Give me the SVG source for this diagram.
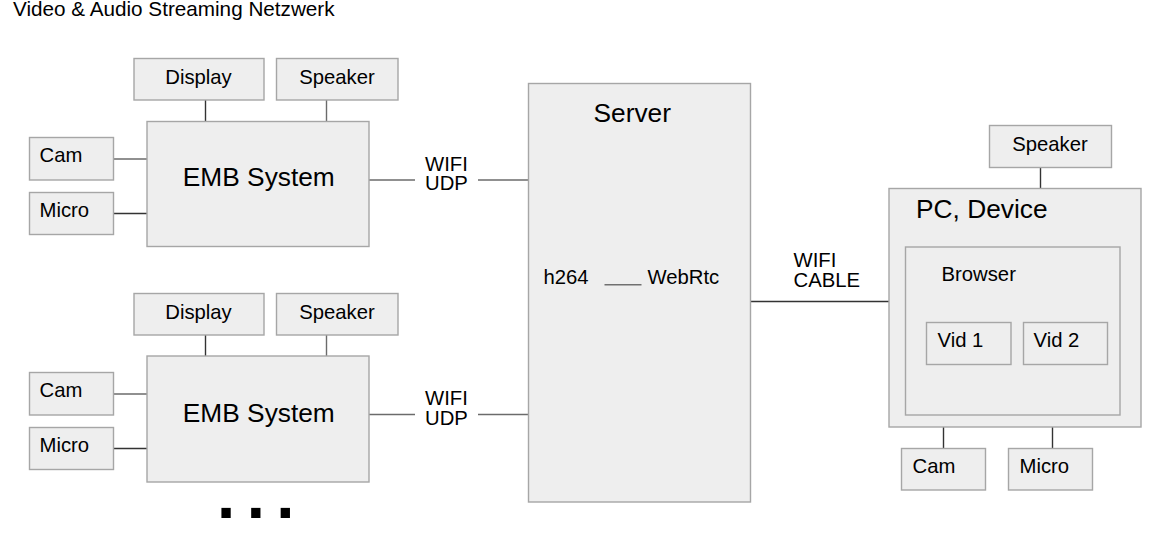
<svg xmlns="http://www.w3.org/2000/svg" width="1151" height="539" viewBox="0 0 1151 539">
<style>
.box{fill:#eeeeee;stroke:#a6a6a6;stroke-width:1.4}
.t{font-family:"Liberation Sans",Arial,sans-serif;font-size:20.3px;fill:#000}
.big{font-family:"Liberation Sans",Arial,sans-serif;font-size:26.3px;fill:#000}
.c{stroke:#333;stroke-width:1.4;fill:none}
.g{stroke:#6b6b6b;stroke-width:1.4;fill:none}
.mid{text-anchor:middle}
</style>
<rect width="1151" height="539" fill="#ffffff"/>
<text class="t" x="13" y="15.5" style="font-size:20.7px">Video &amp; Audio Streaming Netzwerk</text>

<g id="connectors">
  <line class="c" x1="205.5" y1="100" x2="205.5" y2="121.5"/>
  <line class="g" x1="326.5" y1="100" x2="326.5" y2="121.5"/>
  <line class="g" x1="113.5" y1="159" x2="147" y2="159"/>
  <line class="c" x1="113.5" y1="213.5" x2="147" y2="213.5"/>
  <line class="g" x1="369" y1="180" x2="415" y2="180"/>
  <line class="g" x1="478" y1="180" x2="528.5" y2="180"/>
  <line class="c" x1="205.5" y1="335" x2="205.5" y2="356"/>
  <line class="g" x1="326.5" y1="335" x2="326.5" y2="356"/>
  <line class="g" x1="113.5" y1="394" x2="147" y2="394"/>
  <line class="c" x1="113.5" y1="448.5" x2="147" y2="448.5"/>
  <line class="g" x1="369" y1="414.5" x2="415" y2="414.5"/>
  <line class="g" x1="478" y1="414.5" x2="528.5" y2="414.5"/>
  <line class="c" x1="750.5" y1="301.5" x2="889" y2="301.5"/>
  <line class="c" x1="1040.5" y1="167.5" x2="1040.5" y2="188.5"/>
  <line class="c" x1="943.5" y1="415" x2="943.5" y2="448.5"/>
  <line class="c" x1="1052.5" y1="415" x2="1052.5" y2="448.5"/>
  <text class="t" x="425" y="170.5">WIFI<tspan x="425" dy="19.5">UDP</tspan></text>
  <text class="t" x="425" y="405">WIFI<tspan x="425" dy="19.5">UDP</tspan></text>
  <text class="t" x="793.5" y="266.5">WIFI<tspan x="793.5" dy="20">CABLE</tspan></text>
</g>

<g id="display1"><rect class="box" x="134" y="58.5" width="130" height="41.5"/><text class="t mid" x="198.5" y="84">Display</text></g>
<g id="speaker1"><rect class="box" x="276.5" y="58.5" width="121.5" height="41.5"/><text class="t mid" x="337" y="84">Speaker</text></g>
<g id="cam1"><rect class="box" x="29.5" y="137.5" width="84" height="42.5"/><text class="t" x="39.5" y="162">Cam</text></g>
<g id="micro1"><rect class="box" x="29.5" y="192.5" width="84" height="42"/><text class="t" x="39.5" y="217">Micro</text></g>
<g id="emb1"><rect class="box" x="147" y="121.5" width="222" height="125"/><text class="big mid" x="258.8" y="186">EMB System</text></g>

<g id="display2"><rect class="box" x="134" y="293.5" width="130" height="41.5"/><text class="t mid" x="198.5" y="319">Display</text></g>
<g id="speaker2"><rect class="box" x="276.5" y="293.5" width="121.5" height="41.5"/><text class="t mid" x="337" y="319">Speaker</text></g>
<g id="cam2"><rect class="box" x="29.5" y="372.5" width="84" height="42.5"/><text class="t" x="39.5" y="397">Cam</text></g>
<g id="micro2"><rect class="box" x="29.5" y="427.5" width="84" height="42"/><text class="t" x="39.5" y="452">Micro</text></g>
<g id="emb2"><rect class="box" x="147" y="356" width="222" height="126"/><text class="big mid" x="258.8" y="421.5">EMB System</text></g>

<g id="more"><text x="216" y="517.7" style="font-family:'DejaVu Sans',sans-serif;font-weight:bold;font-size:53px;letter-spacing:9.5px;fill:#000">...</text></g>

<g id="server">
  <rect class="box" x="528.5" y="83.5" width="222" height="418.5"/>
  <text class="big" x="593.5" y="121.5">Server</text>
  <text class="t" x="543.5" y="283.5">h264</text>
  <line x1="604.5" y1="284.8" x2="641.5" y2="284.8" stroke="#707070" stroke-width="1.4"/>
  <text class="t" x="647.5" y="283.5">WebRtc</text>
</g>

<g id="speaker3"><rect class="box" x="989.5" y="125.5" width="122" height="42"/><text class="t mid" x="1050" y="151">Speaker</text></g>
<g id="pc">
  <rect class="box" x="889" y="188.5" width="252" height="238.5"/>
  <text class="big" x="916" y="217.5">PC, Device</text>
</g>
<g id="browser">
  <rect class="box" x="905.5" y="247" width="214.5" height="168"/>
  <text class="t" x="941.5" y="280.5">Browser</text>
</g>
<g id="vid1"><rect class="box" x="926.5" y="322.5" width="84.5" height="42"/><text class="t" x="937.5" y="346.5">Vid 1</text></g>
<g id="vid2"><rect class="box" x="1023.5" y="322.5" width="84" height="42"/><text class="t" x="1033.5" y="346.5">Vid 2</text></g>
<g id="cam3"><rect class="box" x="901.5" y="448.5" width="84" height="41.5"/><text class="t" x="912.5" y="472.5">Cam</text></g>
<g id="micro3"><rect class="box" x="1008.5" y="448.5" width="84" height="41.5"/><text class="t" x="1019.5" y="472.5">Micro</text></g>
</svg>
